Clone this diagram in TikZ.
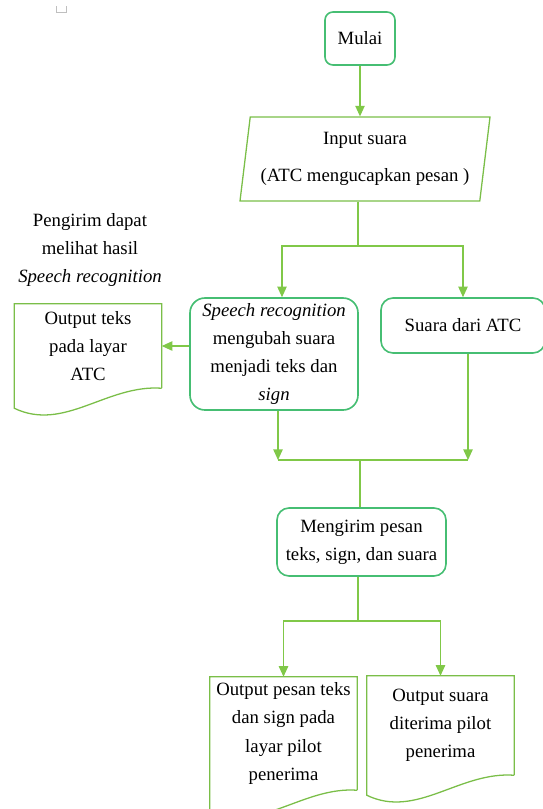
\documentclass[tikz,border=0pt]{standalone}
\usepackage{fontspec}
\setmainfont{Liberation Serif}
\usetikzlibrary{calc,arrows.meta,shapes.geometric}
\definecolor{boxgreen}{RGB}{70,190,115}
\definecolor{linegreen}{RGB}{128,200,72}
\definecolor{shapegreen}{RGB}{122,190,72}
\tikzset{
      roundbox/.style={
          rectangle,
          rounded corners=0.36cm,
          line width=1.4pt,
          draw=boxgreen,
          align=center,
          inner sep=0pt
      },
      inbox/.style={
          trapezium,
          trapezium left angle=79,
          trapezium right angle=101,
          trapezium stretches body,
          line width=1.1pt,
          draw=shapegreen,
          align=center,
          minimum width=7.5cm,
          minimum height=2.52cm,
          inner sep=0pt
      },
      docbox/.style={
          rectangle,
          align=center,
          minimum width=4.41cm,
          inner sep=0pt
      },
      flowline/.style={draw=linegreen, line width=1pt},
      flowarrow/.style={flowline, -{Triangle[length=9pt,width=8pt]}}
  }
\begin{document}
\begin{tikzpicture}[x=0.03cm, y=-0.03cm, every node/.style={font=\fontsize{16}{24}\selectfont}]
    \useasboundingbox (0,0) rectangle (543,809);
    \draw[gray!50, line width=0.5pt] (56,6) -- (56,12) -- (66,12) -- (66,6);

    \node [roundbox, minimum width=2.1cm, minimum height=1.59cm, rounded corners=0.24cm] (mulai) at (360,38.5) {Mulai};
    \node [inbox] (input) at (365,159) {Input suara\\[7pt](ATC mengucapkan pesan )};

    \node [roundbox, minimum width=5.04cm, minimum height=3.36cm, rounded corners=0.45cm] (sr) at (274,354) {\textit{Speech recognition}\\mengubah suara\\menjadi teks dan\\\textit{sign}};
    \node [roundbox, minimum width=4.92cm, minimum height=1.65cm] (suara) at (463,325.5) {Suara dari ATC};
    \node [roundbox, minimum width=5.07cm, minimum height=2.04cm] (kirim) at (361.5,542) {Mengirim pesan\\teks, sign, dan suara};

    \node [align=center] (note) at (90,250) {Pengirim dapat\\melihat hasil\\\textit{Speech recognition}};

    \node [docbox, minimum height=2.52cm] (outatc) at (88,346) {Output teks\\pada layar\\ATC};
    \node [docbox, minimum height=3.39cm] (outpesan) at (283.5,733.5) {Output pesan teks\\dan sign pada\\layar pilot\\penerima};
    \node [docbox, minimum height=2.97cm] (outsuara) at (440.5,725.5) {Output suara\\diterima pilot\\penerima};

    % document outlines
    \foreach \d in {outatc,outpesan,outsuara}
        \draw [draw=shapegreen, line width=1.1pt] (\d.south east) -- (\d.north east) -- (\d.north west) -- ($(\d.south west)+(0,20)$) .. controls ($(\d.south west)+(50,44)$) and ($(\d.south east)+(-55,-4)$) .. (\d.south east);

    \draw [flowarrow] (mulai.south) -- (mulai.south |- input.north);

    \coordinate (split) at (358,246);
    \draw [flowline] (input.south -| split) -- (split);
    \draw [flowarrow] (split) -| ($(sr.north)+(8,0)$);
    \draw [flowarrow] (split) -| (suara.north);
    \draw [flowarrow] (sr.west |- outatc.east) -- (outatc.east);

    \coordinate (mleft) at (278,460);
    \coordinate (mright) at (468,460);
    \coordinate (join) at (360,460);
    \draw [flowarrow] (sr.south -| mleft) -- (mleft);
    \draw [flowarrow] (suara.south -| mright) -- (mright);
    \draw [flowline] (mleft) -- (mright);
    \draw [flowline] (join) -- (kirim.north -| join);

    \coordinate (split2) at (358,621);
    \draw [flowline] (kirim.south -| split2) -- (split2);
    \draw [flowarrow] (split2) -| (outpesan.north);
    \draw [flowarrow] (split2) -| (outsuara.north);
\end{tikzpicture}
\end{document}
